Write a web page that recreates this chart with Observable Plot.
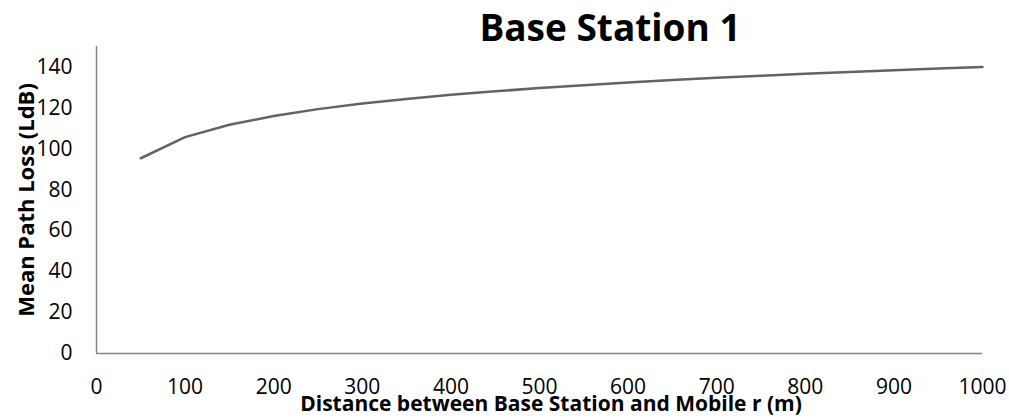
<!DOCTYPE html>
<html>
<head>
<meta charset="utf-8">
<script src="https://cdn.jsdelivr.net/npm/d3@7"></script>
<script src="https://cdn.jsdelivr.net/npm/@observablehq/plot@0.6"></script>
<style>
  html, body { margin: 0; padding: 0; background: #fff; }
  #wrap { position: relative; width: 1009px; height: 419px; font-family: "Open Sans", sans-serif; }
  .title { position: absolute; left: 610px; top: 2px; transform: translateX(-50%); font-weight: 700; font-size: 37px; line-height: 50px; white-space: nowrap; color: #000; }
  .xlab { position: absolute; left: 551px; top: 389px; transform: translateX(-50%); font-weight: 700; font-size: 21px; line-height: 28px; white-space: nowrap; color: #000; }
  .ylab { position: absolute; left: 25px; top: 200px; transform: translate(-50%, -50%) rotate(-90deg); font-weight: 700; font-size: 22px; line-height: 28px; white-space: nowrap; color: #000; }
</style>
</head>
<body>
<div id="wrap"></div>
<script>
const titleText = "Base Station 1";
const xLabel = "Distance between Base Station and Mobile r (m)";
const yLabel = "Mean Path Loss (LdB)";

const distance = [50, 100, 150, 200, 250, 300, 350, 400, 450, 500, 550, 600, 650, 700, 750, 800, 850, 900, 950, 1000];
const pathLoss = [95.4, 105.7, 111.8, 116.0, 119.4, 122.1, 124.4, 126.4, 128.1, 129.7, 131.1, 132.4, 133.6, 134.7, 135.7, 136.7, 137.6, 138.4, 139.3, 140.0];

const xTicks = [0, 100, 200, 300, 400, 500, 600, 700, 800, 900, 1000];
const yTicks = [0, 20, 40, 60, 80, 100, 120, 140];

const data = distance.map((d, i) => ({r: d, loss: pathLoss[i]}));

const chart = Plot.plot({
  width: 1009,
  height: 419,
  marginLeft: 96,
  marginRight: 27,
  marginTop: 46,
  marginBottom: 66,
  style: {fontFamily: "'Open Sans', sans-serif", fontSize: "21px", color: "#000", background: "#fff"},
  x: {domain: [0, 1000]},
  y: {domain: [0, 150]},
  marks: [
    Plot.axisX({ticks: xTicks, tickSize: 0, tickPadding: 26, label: null, fontSize: 21, tickFormat: d => String(d)}),
    Plot.axisY({ticks: yTicks, tickSize: 0, tickPadding: 24, label: null, fontSize: 21, tickFormat: d => String(d)}),
    Plot.ruleX([0], {stroke: "#868686", strokeWidth: 1.5}),
    Plot.ruleY([0], {stroke: "#868686", strokeWidth: 1.5}),
    Plot.line(data, {x: "r", y: "loss", stroke: "#636363", strokeWidth: 2.5})
  ]
});

const wrap = document.getElementById("wrap");
wrap.appendChild(chart);
chart.style.position = "absolute";
chart.style.left = "0";
chart.style.top = "0";

for (const [cls, txt] of [["title", titleText], ["xlab", xLabel], ["ylab", yLabel]]) {
  const d = document.createElement("div");
  d.className = cls;
  d.textContent = txt;
  wrap.appendChild(d);
}
</script>
</body>
</html>
